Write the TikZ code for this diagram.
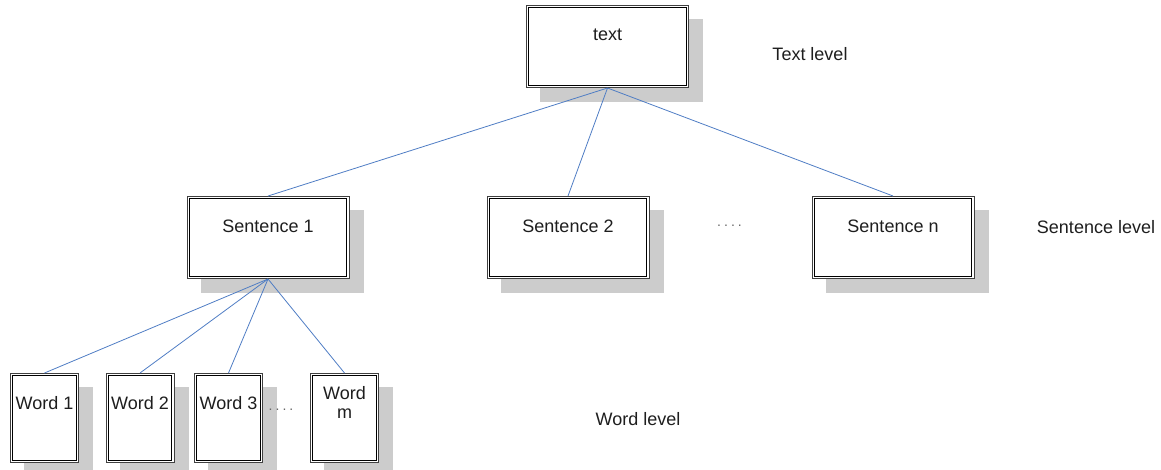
\documentclass[tikz,border=0pt]{standalone}
\usepackage{fontspec}
\setmainfont{Liberation Sans}
\definecolor{linkblue}{RGB}{79,125,196}
\definecolor{shadowgray}{RGB}{204,204,204}
\definecolor{txtgray}{RGB}{30,30,30}
\tikzset{
  x=1pt, y=-1pt,
  box/.style={draw=black!75, line width=1pt, fill=white, inner sep=0pt, rectangle},
  bigbox/.style={box, minimum width=162pt, minimum height=82pt},
  wordbox/.style={box, minimum width=68pt, minimum height=89pt},
  lbl/.style={font=\fontsize{18}{20}\selectfont, text=txtgray, inner sep=0pt},
  link/.style={draw=linkblue, line width=0.8pt},
  dots/.style={font=\fontsize{14}{16}\selectfont, text=black!60, inner sep=0pt}
}
\newcommand{\shadowof}[1]{\fill[shadowgray] ([shift={(14,14)}]#1.north west) rectangle ([shift={(14,14)}]#1.south east);}
\newcommand{\innerof}[1]{\draw[black, line width=1pt] ([shift={(2.6,2.6)}]#1.north west) rectangle ([shift={(-2.6,-2.6)}]#1.south east);}
\begin{document}
\begin{tikzpicture}
\useasboundingbox (0,0) rectangle (1161,469);
% placement nodes for the shadows
\path (607.5,46.5) node[bigbox, draw=none, fill=none] (t0) {};
\path (268,237.5) node[bigbox, draw=none, fill=none] (s10) {};
\path (568,237.5) node[bigbox, draw=none, fill=none] (s20) {};
\path (893,237.5) node[bigbox, draw=none, fill=none] (sn0) {};
\path (44.5,418) node[wordbox, draw=none, fill=none] (w10) {};
\path (140,418) node[wordbox, draw=none, fill=none] (w20) {};
\path (228.5,418) node[wordbox, draw=none, fill=none] (w30) {};
\path (344.5,418) node[wordbox, draw=none, fill=none] (wm0) {};
% shadows
\shadowof{t0}
\shadowof{s10}
\shadowof{s20}
\shadowof{sn0}
\shadowof{w10}
\shadowof{w20}
\shadowof{w30}
\shadowof{wm0}
% boxes
\node[bigbox] (t) at (t0) {};
\node[bigbox] (s1) at (s10) {};
\node[bigbox] (s2) at (s20) {};
\node[bigbox] (sn) at (sn0) {};
\node[wordbox] (w1) at (w10) {};
\node[wordbox] (w2) at (w20) {};
\node[wordbox] (w3) at (w30) {};
\node[wordbox] (wm) at (wm0) {};
\innerof{t}
\innerof{s1}
\innerof{s2}
\innerof{sn}
\innerof{w1}
\innerof{w2}
\innerof{w3}
\innerof{wm}
% texts
\node[lbl] (tt) at (607.5,35) {text};
\node[lbl] (s1t) at (268,226) {Sentence 1};
\node[lbl] (s2t) at (568,226) {Sentence 2};
\node[lbl] (snt) at (893,226) {Sentence n};
\node[lbl] (w1t) at (44.5,403) {Word 1};
\node[lbl] (w2t) at (140,403) {Word 2};
\node[lbl] (w3t) at (228.5,403) {Word 3};
\node[lbl, align=center] (wmt) at (344.5,402) {Word\\[-1pt]m};
% level labels
\node[lbl] (tl) at (810,54) {Text level};
\node[lbl] (sl) at (1096,227) {Sentence level};
\node[lbl] (wl) at (638,419) {Word level};
% dots
\node[dots] (d1) at (729.5,226) {.\kern3pt.\kern3pt.\kern3pt.};
\node[dots] (d2) at (281,410) {.\kern3pt.\kern3pt.\kern3pt.};
% connectors
\draw[link] (t.south) -- (s1.north);
\draw[link] (t.south) -- (s2.north);
\draw[link] (t.south) -- (sn.north);
\draw[link] (s1.south) -- (w1.north);
\draw[link] (s1.south) -- (w2.north);
\draw[link] (s1.south) -- (w3.north);
\draw[link] (s1.south) -- (wm.north);
\end{tikzpicture}
\end{document}
